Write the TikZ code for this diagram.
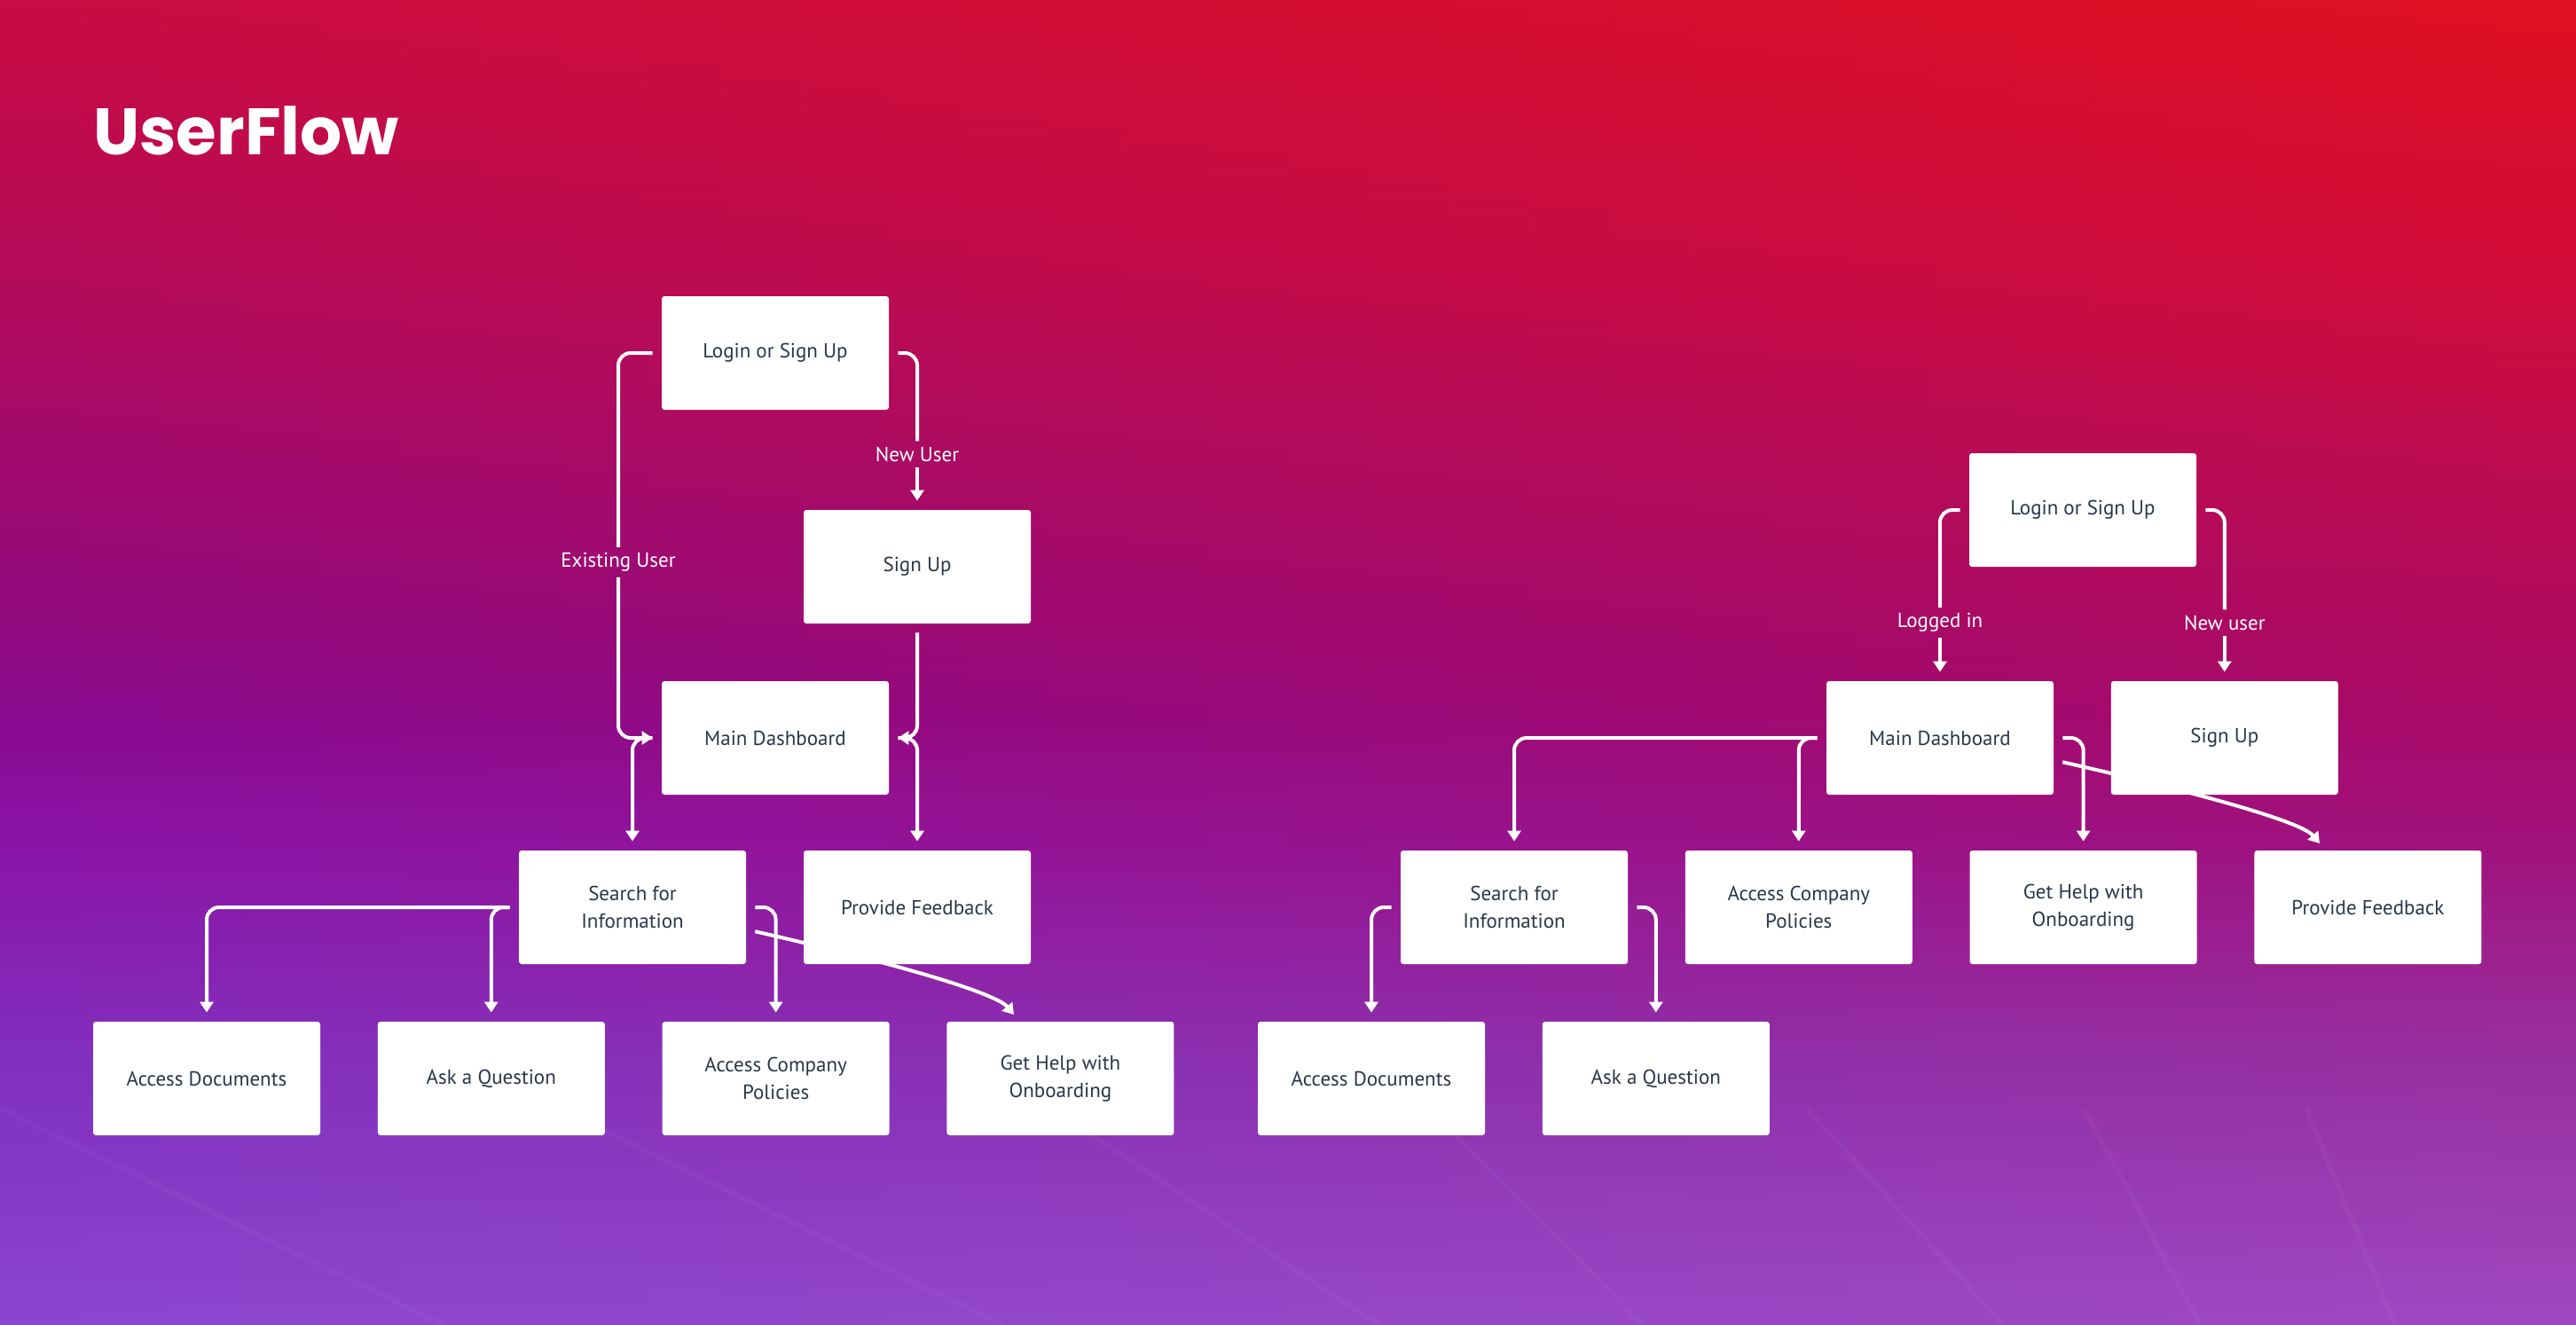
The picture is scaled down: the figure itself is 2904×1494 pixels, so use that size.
\documentclass[tikz,border=0pt]{standalone}
\usepackage{fontspec}
\setmainfont{PT Sans}
\newfontfamily\titlefont{Poppins}
\usetikzlibrary{arrows.meta,positioning}

\definecolor{boxtext}{HTML}{2B3648}
% background, left edge (top to bottom)
\definecolor{bgL1}{HTML}{C80C44}
\definecolor{bgL2}{HTML}{B40A58}
\definecolor{bgL3}{HTML}{A20A6C}
\definecolor{bgL4}{HTML}{920A80}
\definecolor{bgL5}{HTML}{880A90}
\definecolor{bgL6}{HTML}{8A14A8}
\definecolor{bgL7}{HTML}{8030C0}
\definecolor{bgL8}{HTML}{8A46D0}
% background, right edge (top to bottom)
\definecolor{bgR1}{HTML}{E01020}
\definecolor{bgR2}{HTML}{D20C38}
\definecolor{bgR3}{HTML}{C00C4C}
\definecolor{bgR4}{HTML}{B00A5C}
\definecolor{bgR5}{HTML}{AA0A66}
\definecolor{bgR6}{HTML}{A2127A}
\definecolor{bgR7}{HTML}{9830A0}
\definecolor{bgR8}{HTML}{A048C0}

\pgfdeclarelayer{bg}
\pgfdeclarelayer{links}
\pgfsetlayers{bg,links,main}

\begin{document}
\begin{tikzpicture}[
    x=0.5pt, y=-0.5pt,
    box/.style={
      fill=white,
      rounded corners=1.5pt,
      minimum width=128pt,
      minimum height=64pt,
      inner sep=0pt,
      align=center,
      text=boxtext,
      font=\fontsize{11.5}{15.5}\selectfont
    },
    lbl/.style={
      text=white,
      inner sep=3pt,
      font=\fontsize{11.5}{14}\selectfont
    },
    link/.style={
      draw=white,
      line width=2pt,
      rounded corners=7pt,
      shorten <=5pt
    },
    arr/.style={
      link,
      -{Triangle[length=6pt,width=7.5pt]},
      shorten >=5pt
    },
    node distance=32pt
    ]
    \useasboundingbox (0,0) rectangle (2904,1494);
    \begin{pgfonlayer}{bg}
    \foreach \i in {0,...,31}{
      \pgfmathsetmacro\w{100*(\i+0.5)/32}
      \colorlet{m1}{bgR1!\w!bgL1}
      \colorlet{m2}{bgR2!\w!bgL2}
      \colorlet{m3}{bgR3!\w!bgL3}
      \colorlet{m4}{bgR4!\w!bgL4}
      \colorlet{m5}{bgR5!\w!bgL5}
      \colorlet{m6}{bgR6!\w!bgL6}
      \colorlet{m7}{bgR7!\w!bgL7}
      \colorlet{m8}{bgR8!\w!bgL8}
      \pgfdeclareverticalshading{bgstrip\i}{100bp}{color(0bp)=(m8); color(25bp)=(m8); color(34.8bp)=(m7); color(43.2bp)=(m6); color(47.9bp)=(m5); color(51.6bp)=(m4); color(58.3bp)=(m3); color(65bp)=(m2); color(75bp)=(m1); color(100bp)=(m1)}
      \shade[shading=bgstrip\i] (\i*90.75,0) rectangle (\i*90.75+92,1494);
    }
    \foreach \xa/\xb in {0/500,630/1130,1185/1555,1611/1852,2037/2259,2350/2480,2600/2700}
      \draw[white,opacity=0.03,line width=3pt] (\xa,1250) -- (\xb,1494);
    \end{pgfonlayer}

    \node[anchor=base west,inner sep=0pt,text=white,
      font=\titlefont\bfseries\fontsize{37}{40}\selectfont] (title) at (105,174) {UserFlow};

    % left flow
    \node[box] (login1) at (874,398) {Login or Sign Up};
    \node[box] (signup1) at (1034,639) {Sign Up};
    \node[box] (dash1) at (874,832) {Main Dashboard};
    \node[box] (search1) at (713,1023) {Search for\\Information};
    \node[box] (feedback1) at (1034,1023) {Provide Feedback};
    \node[box] (docs1) at (233,1216) {Access Documents};
    \node[box,right=of docs1] (ask1) {Ask a Question};
    \node[box,right=of ask1] (policies1) {Access Company\\Policies};
    \node[box,right=of policies1] (onboard1) {Get Help with\\Onboarding};

    \node[lbl] (lexist) at (697,634) {Existing User};
    \node[lbl] (lnew1) at (1034,512) {New User};

    \draw[link] (login1.west) -| (lexist.north);
    \draw[arr,shorten <=0pt] (lexist.south) |- (dash1.west);
    \draw[link] (login1.east) -| (lnew1.north);
    \draw[arr,shorten <=0pt] (lnew1.south) -- (signup1.north);
    \draw[arr] (signup1.south) |- (dash1.east);
    \draw[arr] (dash1.west) -| (search1.north);
    \draw[arr] (dash1.east) -| (feedback1.north);
    \draw[arr] (search1.west) -| (docs1.north);
    \draw[arr] (search1.west) -| (ask1.north);
    \draw[arr] (search1.east) -| (policies1.north);
    \begin{pgfonlayer}{links}
    \draw[arr] ([yshift=-12.5pt]search1.east) .. controls +(180,41) and +(-26,-31) .. ([xshift=-23pt]onboard1.north);
    \end{pgfonlayer}

    % right flow
    \node[box] (login2) at (2348,575) {Login or Sign Up};
    \node[box] (dash2) at (2187,832) {Main Dashboard};
    \node[box,right=of dash2] (signup2) {Sign Up};
    \node[box] (search2) at (1707,1023) {Search for\\Information};
    \node[box,right=of search2] (policies2) {Access Company\\Policies};
    \node[box,right=of policies2] (onboard2) {Get Help with\\Onboarding};
    \node[box,right=of onboard2] (feedback2) {Provide Feedback};
    \node[box] (docs2) at (1546,1216) {Access Documents};
    \node[box,right=of docs2] (ask2) {Ask a Question};

    \node[lbl] (llog) at (2187,702) {Logged in};
    \node[lbl] (lnew2) at (signup2|-llog) {New user};

    \draw[link] (login2.west) -| (llog.north);
    \draw[arr,shorten <=0pt] (llog.south) -- (dash2.north);
    \draw[link] (login2.east) -| (lnew2.north);
    \draw[arr,shorten <=0pt] (lnew2.south) -- (signup2.north);
    \draw[arr] (dash2.west) -| (search2.north);
    \draw[arr] (dash2.west) -| (policies2.north);
    \draw[arr] (dash2.east) -| (onboard2.north);
    \draw[arr] (search2.west) -| (docs2.north);
    \draw[arr] (search2.east) -| (ask2.north);
    \begin{pgfonlayer}{links}
    \draw[arr] ([yshift=-12.5pt]dash2.east) .. controls +(180,41) and +(-26,-31) .. ([xshift=-24pt]feedback2.north);
    \end{pgfonlayer}
\end{tikzpicture}
\end{document}
